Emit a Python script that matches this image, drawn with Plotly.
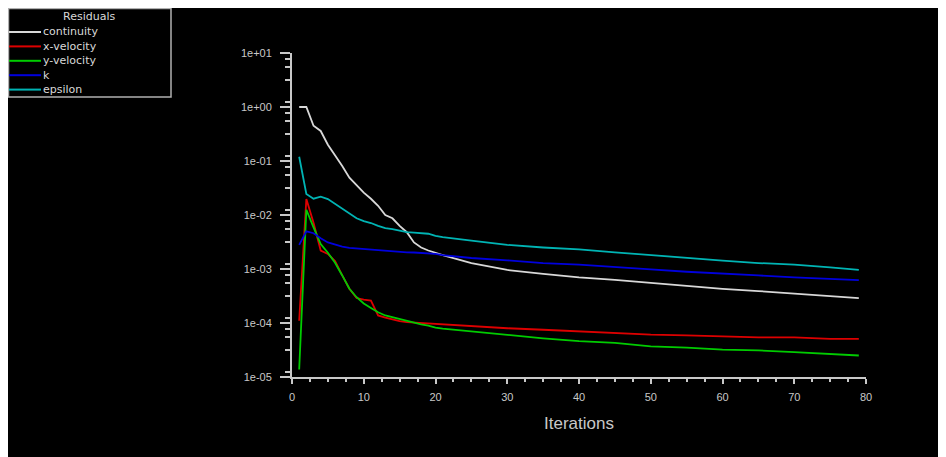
import plotly.graph_objects as go

# ---- data ----
iterations = list(range(1, 22)) + [25, 30, 35, 40, 45, 50, 55, 60, 65, 70, 75, 79]

continuity = [1.0, 1.0, 0.45, 0.36, 0.20, 0.128, 0.081, 0.049, 0.035, 0.026, 0.020,
              0.0148, 0.0100, 0.0087, 0.0063, 0.0048, 0.0031, 0.0025, 0.0022, 0.0020, 0.0018,
              0.00129, 0.00096, 0.00081, 0.00070, 0.00063, 0.00055, 0.00048, 0.00043,
              0.00039, 0.00035, 0.00032, 0.00029]
x_velocity = [1.1e-4, 0.0197, 0.0072, 0.0022, 0.0019, 0.0014, 7.6e-4, 4.3e-4, 2.9e-4, 2.7e-4,
              2.6e-4, 1.38e-4, 1.26e-4, 1.15e-4, 1.08e-4, 1.04e-4, 1.02e-4, 1.0e-4, 9.8e-5,
              9.7e-5, 9.3e-5, 8.7e-5, 8.0e-5, 7.5e-5, 7.0e-5, 6.5e-5, 6.1e-5, 5.9e-5, 5.7e-5,
              5.4e-5, 5.4e-5, 5.1e-5, 5.1e-5]
y_velocity = [1.38e-5, 0.0125, 0.0059, 0.0029, 0.0020, 0.0013, 7.6e-4, 4.3e-4, 3.0e-4, 2.3e-4,
              1.9e-4, 1.58e-4, 1.38e-4, 1.28e-4, 1.17e-4, 1.08e-4, 1.0e-4, 9.4e-5, 8.9e-5,
              8.2e-5, 7.9e-5, 7.0e-5, 6.0e-5, 5.2e-5, 4.6e-5, 4.3e-5, 3.7e-5, 3.5e-5, 3.2e-5,
              3.1e-5, 2.9e-5, 2.7e-5, 2.5e-5]
k = [0.0028, 0.0050, 0.0046, 0.0037, 0.0031, 0.0028, 0.0026, 0.00246, 0.0024, 0.00235,
     0.00228, 0.0022, 0.00217, 0.00214, 0.0021, 0.00204, 0.00202, 0.0020, 0.00195, 0.0019,
     0.0018, 0.0016, 0.00145, 0.00129, 0.0012, 0.00107, 0.00098, 0.00089, 0.00081,
     0.00076, 0.00070, 0.00066, 0.00062]
epsilon = [0.12, 0.0245, 0.020, 0.0218, 0.0197, 0.016, 0.0128, 0.0107, 0.0087, 0.0077,
           0.0071, 0.0063, 0.0057, 0.0055, 0.0051, 0.0048, 0.0047, 0.0046, 0.0045, 0.0041,
           0.0039, 0.00335, 0.0028, 0.0025, 0.0023, 0.00204, 0.0018, 0.0016, 0.00143,
           0.00129, 0.0012, 0.00107, 0.00096]

series_names = ["continuity", "x-velocity", "y-velocity", "k", "epsilon"]
series_values = [continuity, x_velocity, y_velocity, k, epsilon]
legend_title = "Residuals"
x_title = "Iterations"
y_tick_values = [1e-5, 1e-4, 1e-3, 1e-2, 1e-1, 1e0, 1e1]
y_tick_labels = ["1e-05", "1e-04", "1e-03", "1e-02", "1e-01", "1e+00", "1e+01"]

# ---- styling ----
colors = ["#d8d8d8", "#dd0000", "#00cc00", "#0000dd", "#00b4b4"]
W, H = 946, 457
OFF = 8  # page body margin of the html page
L, R, T, B = 284, 88, 45, 88
PW, PH = W - L - R, H - T - B
AX = "#c8c8c8"


def px(xs):
    """screen x pixel -> paper coordinate"""
    return (xs - OFF - L) / PW


def py(ys):
    """screen y pixel -> paper coordinate"""
    return 1 - (ys - OFF - T) / PH


fig = go.Figure()
for name, vals, col in zip(series_names, series_values, colors):
    fig.add_trace(go.Scatter(x=iterations, y=vals, mode="lines", name=name,
                             line=dict(color=col, width=1.8), showlegend=False))

minor_vals = []
for e in range(-5, 1):
    for m in (1.25, 3.2, 5.5, 7.8):
        minor_vals.append(m * 10 ** e)

shapes = [
    # legend box
    dict(type="rect", xref="paper", yref="paper", x0=px(8.5), x1=px(171), y0=py(97), y1=py(8.5),
         fillcolor="black", line=dict(color="#b0b0b0", width=1.5), layer="above"),
]
annotations = [
    dict(text=legend_title, xref="paper", yref="paper", x=px(89), y=py(17), showarrow=False,
         xanchor="center", yanchor="middle",
         font=dict(family="DejaVu Sans", size=11, color="#d8d8d8")),
]
row0, step = 32, 14.4
for i, (name, col) in enumerate(zip(series_names, colors)):
    yy = row0 + i * step
    shapes.append(dict(type="line", xref="paper", yref="paper", x0=px(9), x1=px(41),
                       y0=py(yy), y1=py(yy), line=dict(color=col, width=2), layer="above"))
    annotations.append(dict(text=name, xref="paper", yref="paper", x=px(41), y=py(yy),
                            showarrow=False, xanchor="left", yanchor="middle",
                            font=dict(family="DejaVu Sans", size=11, color="#d8d8d8")))

fig.update_layout(
    width=W, height=H, autosize=False,
    margin=dict(l=L, r=R, t=T, b=B, pad=0),
    paper_bgcolor="black", plot_bgcolor="black",
    showlegend=False,
    shapes=shapes, annotations=annotations,
    xaxis=dict(range=[0, 80], tickmode="linear", tick0=0, dtick=10,
               showgrid=False, zeroline=False, showline=True, linecolor=AX, linewidth=2,
               ticks="outside", ticklen=5, tickwidth=2, tickcolor=AX,
               minor=dict(dtick=2.5, tick0=0, ticks="outside", ticklen=3, tickwidth=1.5,
                          tickcolor=AX, showgrid=False),
               tickfont=dict(family="Liberation Sans", size=11, color=AX),
               ticklabelstandoff=4,
               title=dict(text=x_title, standoff=15,
                          font=dict(family="Liberation Sans", size=17, color=AX))),
    yaxis=dict(type="log", range=[-5, 1], tickmode="array", tickvals=y_tick_values,
               ticktext=y_tick_labels,
               showgrid=False, zeroline=False, showline=True, linecolor=AX, linewidth=2,
               ticks="outside", ticklen=10, tickwidth=2, tickcolor=AX,
               minor=dict(tickmode="array", tickvals=minor_vals, ticks="outside", ticklen=5,
                          tickwidth=1.5, tickcolor=AX, showgrid=False),
               tickfont=dict(family="Liberation Sans", size=11, color=AX),
               ticklabelstandoff=6),
)

fig.write_html("out.html")
